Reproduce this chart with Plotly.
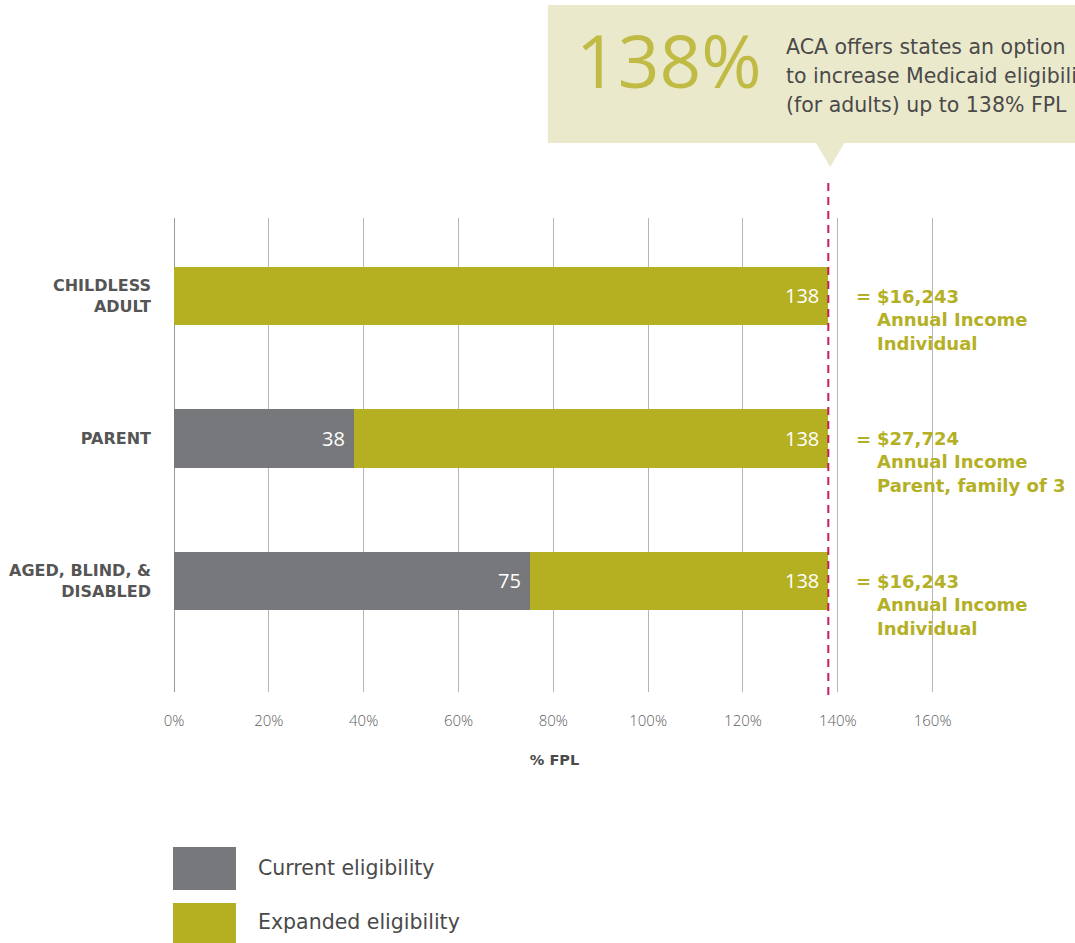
import plotly.graph_objects as go

# ---------------- data ----------------
categories = ["CHILDLESS<br>ADULT", "PARENT", "AGED, BLIND, &<br>DISABLED"]
current = [0, 38, 75]
expanded = [138, 138, 138]
income_amount = ["$16,243", "$27,724", "$16,243"]
income_desc = ["Individual", "Parent, family of 3", "Individual"]
x_ticks = [0, 20, 40, 60, 80, 100, 120, 140, 160]
x_tick_labels = ["0%", "20%", "40%", "60%", "80%", "100%", "120%", "140%", "160%"]
threshold = 138
callout_big = "138%"
callout_lines = ["ACA offers states an option", "to increase Medicaid eligibility",
                 "(for adults) up to 138% FPL"]
series_names = ["Current eligibility", "Expanded eligibility"]
x_title = "% FPL"

# ---------------- style ----------------
GREY = "#77787b"
OLIVE = "#b5b022"
OLIVE_TXT = "#b4b026"
BIG = "#c0bb45"
BOX = "#ebe9cc"
TXT = "#4a4a4a"
MAGENTA = "#c41d63"
FONT = "Open Sans"
WIDE = "DejaVu Sans"

W, H = 1075, 943
X_MAX = 160.5
L, T, B = 174, 218, 251
plot_w = 759 * X_MAX / 160
R = W - L - plot_w
plot_h = H - T - B


def px_x(p):
    return (p - L) / plot_w


def px_y(p):
    return (H - B - p) / plot_h


ypos = list(range(len(categories)))

fig = go.Figure()
fig.add_trace(go.Bar(
    y=ypos, x=current, orientation="h", name=series_names[0],
    marker=dict(color=GREY, line=dict(width=0)), width=0.41, hoverinfo="x+name"))
fig.add_trace(go.Bar(
    y=ypos, x=[e - c for e, c in zip(expanded, current)], base=current,
    orientation="h", name=series_names[1],
    marker=dict(color=OLIVE, line=dict(width=0)), width=0.41, hoverinfo="x+name"))

annotations = []
for i, (c, e) in enumerate(zip(current, expanded)):
    if c > 0:
        annotations.append(dict(x=c, y=i, xref="x", yref="y", text=str(c), showarrow=False,
                                xanchor="right", xshift=-7, yanchor="middle",
                                font=dict(family=FONT, size=20, color="white")))
    annotations.append(dict(x=e, y=i, xref="x", yref="y", text=str(e), showarrow=False,
                            xanchor="right", xshift=-7, yanchor="middle",
                            font=dict(family=FONT, size=20, color="white")))
    annotations.append(dict(x=threshold, y=i, xref="x", yref="y", text="=", showarrow=False,
                            xanchor="left", xshift=26, yanchor="middle", yshift=-1,
                            font=dict(family=WIDE, size=18, color=OLIVE_TXT, weight=700)))
    annotations.append(dict(x=threshold, y=i, xref="x", yref="y",
                            text=income_amount[i] + "<br>Annual Income<br>" + income_desc[i],
                            showarrow=False, align="left",
                            xanchor="left", xshift=47, yanchor="middle", yshift=-24,
                            font=dict(family=WIDE, size=18, color=OLIVE_TXT, weight=700)))

annotations.append(dict(x=px_x(574), y=px_y(59.5), xref="paper", yref="paper", text=callout_big,
                        showarrow=False, xanchor="left", yanchor="middle",
                        font=dict(family=FONT, size=73, color=BIG)))
for k, line in enumerate(callout_lines):
    annotations.append(dict(x=px_x(784), y=px_y(47 + 29 * k), xref="paper", yref="paper",
                            text=line, showarrow=False, xanchor="left", yanchor="middle",
                            font=dict(family=WIDE, size=20.5, color=TXT)))

leg_y = [868, 922]
for k, name in enumerate(series_names):
    annotations.append(dict(x=px_x(256), y=px_y(leg_y[k]), xref="paper", yref="paper",
                            text=name, showarrow=False, xanchor="left", yanchor="middle",
                            font=dict(family=WIDE, size=20.5, color=TXT)))

shapes = [
    dict(type="rect", xref="paper", yref="paper", x0=px_x(548), x1=px_x(1090),
         y0=px_y(143), y1=px_y(5), fillcolor=BOX, line=dict(width=0), layer="below"),
    dict(type="path", xref="paper", yref="paper",
         path="M {a},{b} L {c},{b} L {d},{e} Z".format(
             a=px_x(816), b=px_y(142.5), c=px_x(845), d=px_x(830.5), e=px_y(167)),
         fillcolor=BOX, line=dict(width=0), layer="below"),
    dict(type="line", xref="x", yref="paper", x0=threshold, x1=threshold,
         y0=px_y(695), y1=px_y(178), line=dict(color=MAGENTA, width=2, dash="8px,6px"),
         layer="above"),
    dict(type="rect", xref="paper", yref="paper", x0=px_x(173), x1=px_x(236),
         y0=px_y(890), y1=px_y(847), fillcolor=GREY, line=dict(width=0)),
    dict(type="rect", xref="paper", yref="paper", x0=px_x(173), x1=px_x(236),
         y0=px_y(946), y1=px_y(903), fillcolor=OLIVE, line=dict(width=0)),
]

fig.update_layout(
    width=W, height=H, margin=dict(l=L, r=R, t=T, b=B, pad=0, autoexpand=False),
    paper_bgcolor="white", plot_bgcolor="white",
    barmode="overlay", showlegend=False, bargap=0,
    font=dict(family=FONT, color=TXT),
    annotations=annotations, shapes=shapes,
    xaxis=dict(range=[0, X_MAX], tickvals=x_ticks, ticktext=x_tick_labels,
               automargin=False,
               showgrid=True, gridcolor="#b5b5b5", gridwidth=1,
               zeroline=True, zerolinecolor="#9a9a9a", zerolinewidth=1,
               showline=False, ticks="", ticklabelstandoff=18,
               tickfont=dict(family=FONT, size=15, color="#5e5e5e", weight=300),
               title=dict(text=x_title, standoff=25,
                          font=dict(family=WIDE, size=14.5, color=TXT, weight=700)),
               fixedrange=True),
    yaxis=dict(range=[2.779, -0.547], tickvals=ypos, ticktext=categories,
               automargin=False,
               showgrid=False, zeroline=False, showline=False, ticks="",
               ticklabelstandoff=22,
               tickfont=dict(family=WIDE, size=16, color="#555555", weight=700),
               fixedrange=True),
)

fig.write_html("out.html", config={"displayModeBar": False},
               post_script="document.body.style.margin='0';document.body.style.overflow='hidden';")
